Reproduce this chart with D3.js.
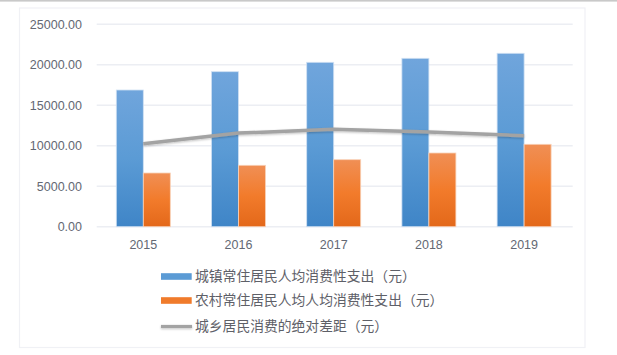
<!DOCTYPE html>
<html><head><meta charset="utf-8">
<script src="https://cdn.jsdelivr.net/npm/d3@7"></script>
<style>html,body{margin:0;padding:0;background:#fff;}svg{display:block;}</style>
</head><body>
<svg id="c" width="617" height="355"></svg>
<script>
const years = ["2015","2016","2017","2018","2019"];
const urban = [16885, 19145, 20306, 20800, 21418];
const rural = [6633, 7584, 8276, 9103, 10178];
const gap = [10252, 11561, 12030, 11697, 11240];
const yTicks = [0, 5000, 10000, 15000, 20000, 25000];
const seriesNames = ["城镇常住居民人均消费性支出（元）", "农村常住居民人均人均消费性支出（元）", "城乡居民消费的绝对差距（元）"];

const svg = d3.select("#c");
const defs = svg.append("defs");
function grad(id, top, mid, bot){
  const g = defs.append("linearGradient").attr("id", id).attr("x1",0).attr("y1",0).attr("x2",0).attr("y2",1);
  g.append("stop").attr("offset","0%").attr("stop-color",top);
  g.append("stop").attr("offset","50%").attr("stop-color",mid);
  g.append("stop").attr("offset","100%").attr("stop-color",bot);
}
grad("gBlue", "#70a5dc", "#5b9bd5", "#3f85c7");
grad("gOrange", "#f08f55", "#f27b2b", "#e3681a");
const f = defs.append("filter").attr("id","sh").attr("filterUnits","userSpaceOnUse")
  .attr("x",0).attr("y",0).attr("width",617).attr("height",355);
f.append("feDropShadow").attr("dx",0).attr("dy",1).attr("stdDeviation",0.8).attr("flood-color","#000").attr("flood-opacity",0.25);

// outer top line
svg.append("rect").attr("x",0).attr("y",0).attr("width",617).attr("height",1.6).attr("fill","#c9c9c9");
// chart area border
svg.append("rect").attr("x",19.5).attr("y",8).attr("width",565.5).attr("height",339.5)
  .attr("fill","none").attr("stroke","#f0f1f5").attr("stroke-width",1.2);

const x0 = d3.scaleBand().domain(years).range([95.7, 571.7]).padding(0);
const step = x0.step();
const x1 = d3.scaleBand().domain(["u","r"]).range([step/2 - 27, step/2 + 27]).padding(0);
const y = d3.scaleLinear().domain([0, 25000]).range([226.7, 24.3]);

// gridlines
svg.append("g").selectAll("line").data(yTicks).join("line")
  .attr("x1", 96.7).attr("x2", 572.7)
  .attr("y1", d => y(d)).attr("y2", d => y(d))
  .attr("stroke", "#eceef3").attr("stroke-width", 1.4);

// y axis labels
const yAxis = d3.axisLeft(y).tickValues(yTicks).tickFormat(d => d3.format(".2f")(d)).tickSize(0).tickPadding(0);
const ga = svg.append("g").attr("transform","translate(82,0)").call(yAxis);
ga.select(".domain").remove();
ga.selectAll("text").attr("font-family","Liberation Sans, Arial, sans-serif").attr("font-size","12.5px").attr("fill","#636873");

// x axis labels
const xAxis = d3.axisBottom(x0).tickSize(0).tickPadding(0);
const gx = svg.append("g").attr("transform","translate(0,240)").call(xAxis);
gx.select(".domain").remove();
gx.selectAll("text").attr("font-family","Liberation Sans, Arial, sans-serif").attr("font-size","12.5px").attr("fill","#636873");

// bars
const groups = svg.append("g").selectAll("g").data(years).join("g")
  .attr("transform", d => `translate(${x0(d)},0)`);
groups.append("rect")
  .attr("x", x1("u")).attr("width", x1.bandwidth())
  .attr("y", (d,i) => y(urban[i])).attr("height", (d,i) => y(0) - y(urban[i]))
  .attr("fill","url(#gBlue)").attr("stroke","#cfe0f3").attr("stroke-width",0.8);
groups.append("rect")
  .attr("x", x1("r")).attr("width", x1.bandwidth())
  .attr("y", (d,i) => y(rural[i])).attr("height", (d,i) => y(0) - y(rural[i]))
  .attr("fill","url(#gOrange)").attr("stroke","#f8d2b8").attr("stroke-width",0.8);

// line
const line = d3.line().x((d,i) => x0(years[i]) + step/2).y(d => y(d));
svg.append("path").datum(gap).attr("d", line)
  .attr("fill","none").attr("stroke","#a3a3a3").attr("stroke-width",3.5)
  .attr("stroke-linejoin","round").attr("filter","url(#sh)");

// legend
const lg = svg.append("g");
const rows = [
  {name: seriesNames[0], y: 276.5, type: "rect", c: "#5b9bd5"},
  {name: seriesNames[1], y: 300.5, type: "rect", c: "#f07b2b"},
  {name: seriesNames[2], y: 326.5, type: "line", c: "#a3a3a3"}
];
rows.forEach(r => {
  if (r.type === "rect") {
    lg.append("rect").attr("x",161).attr("y",r.y-3.3).attr("width",30.7).attr("height",6.6).attr("fill",r.c);
  } else {
    lg.append("line").attr("x1",161).attr("x2",192).attr("y1",r.y).attr("y2",r.y)
      .attr("stroke",r.c).attr("stroke-width",3.2).attr("filter","url(#sh)");
  }
  lg.append("text").attr("x",195).attr("y",r.y).attr("dy","0.35em")
    .attr("font-family","Noto Sans CJK SC, sans-serif").attr("font-size","13.8px")
    .attr("fill","#5e6068").text(r.name);
});
</script>
</body></html>
